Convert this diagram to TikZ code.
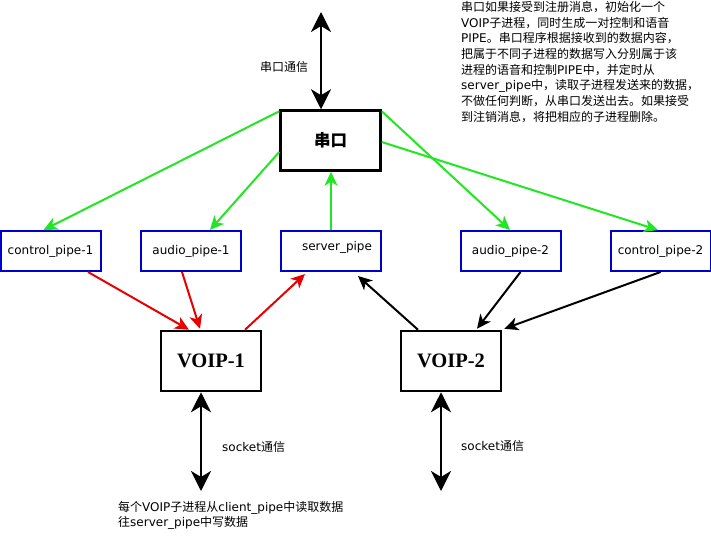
\documentclass[tikz,border=0pt]{standalone}
\usepackage{fontspec}
\setmainfont{DejaVu Sans}
\newfontfamily\cjk{Noto Sans CJK SC}
\newfontfamily\serifb{Liberation Serif}
\usetikzlibrary{arrows.meta,calc}
% automatic CJK font switching
\XeTeXinterchartokenstate=1
\newXeTeXintercharclass\CJKcls
\newcount\cjkc
\cjkc="4E00
\loop\XeTeXcharclass\cjkc=\CJKcls\advance\cjkc by 1\relax\ifnum\cjkc<"9FA6\repeat
\cjkc="3000
\loop\XeTeXcharclass\cjkc=\CJKcls\advance\cjkc by 1\relax\ifnum\cjkc<"3040\repeat
\cjkc="FF00
\loop\XeTeXcharclass\cjkc=\CJKcls\advance\cjkc by 1\relax\ifnum\cjkc<"FFF0\repeat
\XeTeXinterchartoks 0 \CJKcls = {\begingroup\cjk}
\XeTeXinterchartoks 4095 \CJKcls = {\begingroup\cjk}
\XeTeXinterchartoks \CJKcls 0 = {\endgroup}
\XeTeXinterchartoks \CJKcls 4095 = {\endgroup}
\definecolor{pgreen}{RGB}{34,230,34}
\definecolor{pblue}{RGB}{0,0,204}
\definecolor{pred}{RGB}{230,0,0}
\tikzset{
  pipebox/.style={draw=pblue, line width=2pt, minimum width=100pt, minimum height=40pt, inner sep=0pt, font=\fontsize{12}{14}\selectfont},
  procbox/.style={draw=black, line width=2.5pt, minimum width=100pt, minimum height=60pt, inner sep=0pt},
  conn/.style={line width=2pt, -{Stealth[length=14pt,width=13pt,inset=4pt]}},
  dconn/.style={line width=2.5pt, {Stealth[length=20pt,width=20pt,inset=6pt]}-{Stealth[length=20pt,width=20pt,inset=6pt]}},
  lbl/.style={font=\fontsize{12}{14}\selectfont, inner sep=0pt},
}
\begin{document}
\begin{tikzpicture}[x=1pt,y=-1pt]
\useasboundingbox (0,0) rectangle (711,539);
% boxes
\node[procbox, font=\fontsize{16.5}{16.5}\selectfont\bfseries] (serial) at (330.5,140.5) {串口};
\node[pipebox] (cp1) at (50.5,251) {control\_pipe-1};
\node[pipebox] (ap1) at (191,251) {audio\_pipe-1};
\node[pipebox] (sp) at (331,251) {};
\node[lbl] (sptext) at (337,247) {server\_pipe};
\node[pipebox] (ap2) at (510.5,251) {audio\_pipe-2};
\node[pipebox] (cp2) at (660.5,251) {control\_pipe-2};
\node[procbox, font=\serifb\bfseries\fontsize{20.5}{20.5}\selectfont] (voip1) at (211,361) {VOIP-1};
\node[procbox, font=\serifb\bfseries\fontsize{20.5}{20.5}\selectfont] (voip2) at (451,361) {VOIP-2};
% top serial link
\coordinate (top) at (321,12);
\draw[dconn] (top) -- (top |- serial.north);
\node[lbl] (toplbl) at (284,67) {串口通信};
% green
\draw[conn, pgreen] ([yshift=-2pt]serial.north west) -- ([xshift=-7pt]cp1.north);
\draw[conn, pgreen] ([yshift=-11.5pt]serial.west) -- ([xshift=19pt]ap1.north);
\draw[conn, pgreen] (sp.north) -- (sp.north |- serial.south);
\draw[conn, pgreen] ([yshift=-2pt]serial.north east) -- ([xshift=-0.5pt]ap2.north);
\draw[conn, pgreen] ([yshift=-1.5pt]serial.east) -- ([xshift=-2.5pt]cp2.north);
% red
\draw[conn, pred] ([xshift=37.5pt]cp1.south) -- ([xshift=-22pt]voip1.north);
\draw[conn, pred] ([xshift=-9pt]ap1.south) -- ([xshift=-11pt,yshift=1pt]voip1.north);
\draw[conn, pred] ([xshift=34pt]voip1.north) -- ([xshift=-26pt,yshift=-2pt]sp.south);
% black
\draw[conn] ([xshift=-33pt]voip2.north) -- ([xshift=27pt,yshift=-4pt]sp.south);
\draw[conn] ([xshift=10pt]ap2.south) -- ([xshift=26pt,yshift=1pt]voip2.north);
\draw[conn] (cp2.south) -- ([xshift=2pt,yshift=1pt]voip2.north east);
% sockets
\coordinate (s1) at (201,491);
\coordinate (s2) at (441,491);
\draw[dconn] ([xshift=-10pt]voip1.south) -- (s1);
\draw[dconn] ([xshift=-10pt]voip2.south) -- (s2);
\node[lbl, anchor=west] (sk1) at (222,447) {socket通信};
\node[lbl, anchor=west] (sk2) at (461,446) {socket通信};
% notes
\node[lbl, anchor=north west, align=left, font=\fontsize{12}{15.5}\selectfont] (note1) at (118,501)
  {每个VOIP子进程从client\_pipe中读取数据\\往server\_pipe中写数据};
\node[lbl, anchor=north west, align=left, font=\fontsize{12}{15.7}\selectfont] (note2) at (461,1)
  {串口如果接受到注册消息，初始化一个\\
   VOIP子进程，同时生成一对控制和语音\\
   PIPE。串口程序根据接收到的数据内容，\\
   把属于不同子进程的数据写入分别属于该\\
   进程的语音和控制PIPE中，并定时从\\
   server\_pipe中，读取子进程发送来的数据，\\
   不做任何判断，从串口发送出去。如果接受\\
   到注销消息，将把相应的子进程删除。};
\end{tikzpicture}
\end{document}
